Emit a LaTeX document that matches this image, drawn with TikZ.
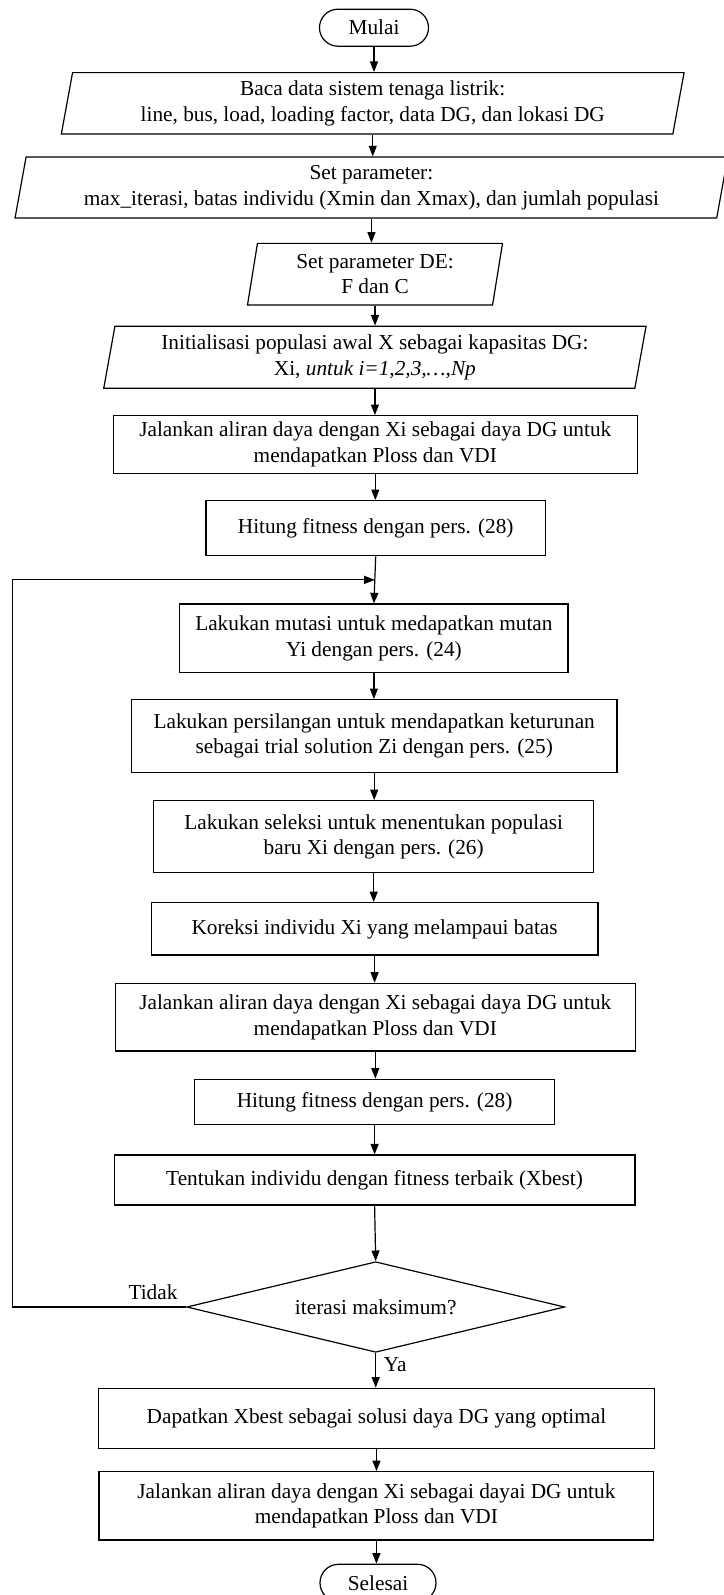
\documentclass[tikz,border=0pt]{standalone}
\usepackage{fontspec}
\setmainfont{Liberation Serif}
\usetikzlibrary{shapes.geometric,arrows.meta,calc}

\tikzset{
  base/.style={draw, line width=0.6pt, inner sep=0pt, align=center,
    font=\fontsize{10.65}{12.8}\selectfont},
  proc/.style={base, rectangle},
  io/.style={base, trapezium, trapezium left angle=76, trapezium right angle=104,
    trapezium stretches body},
  term/.style={base, rectangle, rounded corners=9.2pt},
  dec/.style={base, diamond, aspect=4.2},
  sz/.style 2 args={minimum width=#1*0.5pt, minimum height=#2*0.5pt},
  arr/.style={line width=0.6pt, -{Triangle[length=5.3pt,width=4pt]}},
  lbl/.style={inner sep=0pt, font=\fontsize{10.65}{12.8}\selectfont},
}

\begin{document}
\begin{tikzpicture}[x=0.5pt,y=-0.5pt]
\useasboundingbox (0,0) rectangle (723,1595);

% process steps, top to bottom
\node[term, sz={109}{37}] (start) at (374,27.7) {Mulai};
\node[io, sz={622.7}{61.3}] (in1) at (372.7,103.3)
  {Baca data sistem tenaga listrik:\\line, bus, load, loading factor, data DG, dan lokasi DG};
\node[io, sz={712.7}{61}] (in2) at (371.4,187.5)
  {Set parameter:\\max\_iterasi, batas individu (Xmin dan Xmax), dan jumlah populasi};
\node[io, sz={255}{61.7}] (in3) at (375,274.2)
  {Set parameter DE:\\F dan C};
\node[io, sz={542.3}{62}] (in4) at (374.9,357.2)
  {Initialisasi populasi awal X sebagai kapasitas DG:\\Xi, \textit{untuk i=1,2,3,\ldots,Np}};
\node[proc, sz={524}{57.6}] (p5) at (375.3,444.5)
  {Jalankan aliran daya dengan Xi sebagai daya DG untuk\\mendapatkan Ploss dan VDI};
\node[proc, sz={339.4}{55}] (p6) at (375.7,528.2)
  {Hitung fitness dengan pers. (28)};
\node[proc, sz={388.2}{68.3}] (p7) at (373.9,638.2)
  {Lakukan mutasi untuk medapatkan mutan\\Yi dengan pers. (24)};
\node[proc, sz={485.5}{72.6}] (p8) at (374.2,736)
  {Lakukan persilangan untuk mendapatkan keturunan\\sebagai trial solution Zi dengan pers. (25)};
\node[proc, sz={440.3}{72}] (p9) at (373.7,836.7)
  {Lakukan seleksi untuk menentukan populasi\\baru Xi dengan pers. (26)};
\node[proc, sz={446.8}{52.3}] (p10) at (374.6,928.9)
  {Koreksi individu Xi yang melampaui batas};
\node[proc, sz={520}{67.7}] (p11) at (375.3,1017.2)
  {Jalankan aliran daya dengan Xi sebagai daya DG untuk\\mendapatkan Ploss dan VDI};
\node[proc, sz={360}{45}] (p12) at (374.6,1101.8)
  {Hitung fitness dengan pers. (28)};
\node[proc, sz={520.6}{50}] (p13) at (374.6,1180)
  {Tentukan individu dengan fitness terbaik (Xbest)};
\node[dec, sz={378}{90.6}] (dec) at (375.7,1307)
  {iterasi maksimum?};
\node[proc, sz={556.5}{60}] (p14) at (376.5,1418.3)
  {Dapatkan Xbest sebagai solusi daya DG yang optimal};
\node[proc, sz={554.8}{68.3}] (p15) at (376.4,1505.9)
  {Jalankan aliran daya dengan Xi sebagai dayai DG untuk\\mendapatkan Ploss dan VDI};
\node[term, sz={116}{37}] (stop) at (378,1582.8) {Selesai};

% branch labels
\node[lbl] (tidak) at (153,1291.7) {Tidak};
\node[lbl, anchor=west] (ya) at (383.5,1365) {Ya};

% straight flow
\foreach \a/\b in {start/in1, in1/in2, in2/in3, in3/in4, in4/p5, p5/p6,
                   p7/p8, p8/p9, p9/p10, p10/p11, p11/p12, p12/p13,
                   dec/p14, p14/p15, p15/stop}
  \draw[arr] (\a.south) -- (\a.south |- \b.north);
\draw[arr] (p6.south) -- (p7.north);
\draw[arr] (p13.south) -- (dec.north);

% loop back on "Tidak"
\coordinate (join) at ($(p6.south)!0.5!(p7.north)$);
\coordinate (rail) at (12.5,0);
\draw[arr] (dec.west) -- (dec.west -| rail) |- (join);
\end{tikzpicture}
\end{document}
